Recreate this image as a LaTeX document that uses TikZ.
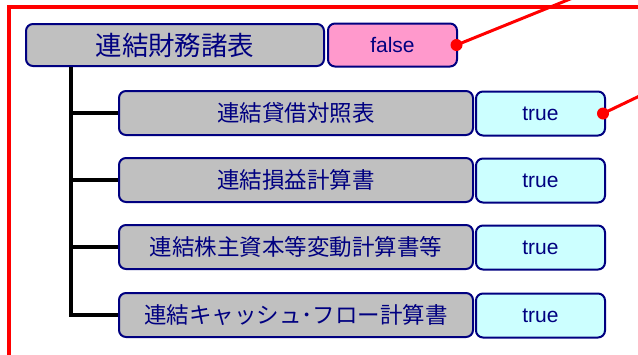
\documentclass[tikz,border=0pt]{standalone}
\usepackage{fontspec}
\setmainfont{Liberation Sans}
\newfontfamily\jpfont{Noto Sans CJK JP}
\definecolor{navy}{HTML}{000080}
\definecolor{itemgray}{HTML}{C0C0C0}
\definecolor{falsepink}{HTML}{FF99CC}
\definecolor{truecyan}{HTML}{CCFFFF}
\tikzset{
  anybox/.style={draw=navy, line width=2pt, rounded corners=7pt, inner sep=0pt, text=navy},
  rootbox/.style={anybox, fill=itemgray, minimum width=298pt, minimum height=42pt, font=\jpfont\fontsize{26.5}{28}\selectfont},
  itembox/.style={anybox, fill=itemgray, minimum width=354pt, minimum height=44pt, font=\jpfont\fontsize{22.5}{24}\selectfont},
  falsebox/.style={anybox, fill=falsepink, minimum width=129pt, minimum height=43pt, font=\fontsize{21}{23}\selectfont},
  truebox/.style={anybox, fill=truecyan, minimum width=129pt, minimum height=44pt, font=\fontsize{21}{23}\selectfont},
  branch/.style={line width=3.5pt, black},
  callout/.style={line width=3pt, red},
}

\begin{document}
\begin{tikzpicture}[x=1pt, y=-1pt]
\useasboundingbox (0,0) rectangle (638,354);
\clip (0,0) rectangle (638,354);

% Red frame (runs off right and bottom)
\draw[red, line width=3.5pt] (9,370) -- (9,7) -- (660,7);

% Root row
\node[rootbox] (root) at (175,45) {連結財務諸表};
\node[falsebox] (rootval) at (392.5,45) {false};

% Child rows
\node[itembox] (bs) at (296,113) {連結貸借対照表};
\node[truebox] (bsval) at (540.5,113.5) {true};

\node[itembox] (pl) at (296,180) {連結損益計算書};
\node[truebox] (plval) at (540.5,180.5) {true};

\node[itembox] (ss) at (296,247) {連結株主資本等変動計算書等};
\node[truebox] (ssval) at (540.5,247.5) {true};

\node[itembox] (cf) at (296,315) {連結キャッシュ･フロー計算書};
\node[truebox] (cfval) at (540.5,315.5) {true};

% Tree lines
\coordinate (trunk) at (71,0);
\draw[branch] (trunk |- root.south) -- (trunk |- cf.west);
\foreach \n in {bs,pl,ss,cf}
  \draw[branch] ([xshift=-1.75pt]trunk |- \n.west) -- (\n.west);

% Callout lines
\coordinate (note1) at (580,-5);
\coordinate (note2) at (650,91);
\draw[callout] ([xshift=-1.5pt]rootval.east) -- (note1);
\fill[red] ([xshift=-1.5pt]rootval.east) circle (6);
\draw[callout] ([xshift=-3pt]bsval.east) -- (note2);
\fill[red] ([xshift=-3pt]bsval.east) circle (6);

\end{tikzpicture}
\end{document}
